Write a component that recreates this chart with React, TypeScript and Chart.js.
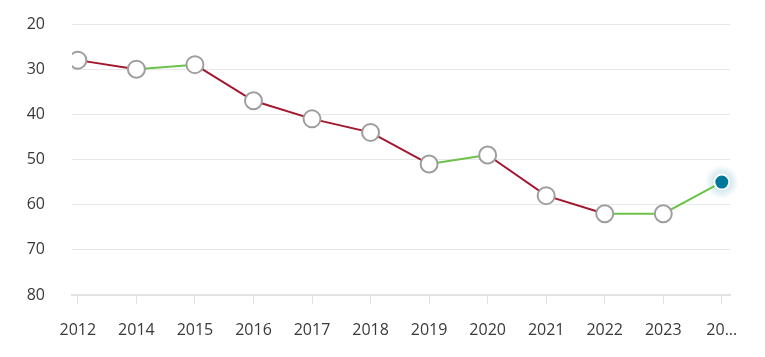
import React, { useEffect, useRef } from "react";
import { Chart, registerables } from "chart.js";

Chart.register(...registerables);

const categories = ["2012", "2014", "2015", "2016", "2017", "2018", "2019", "2020", "2021", "2022", "2023", "20..."];
const rankValues = [28, 30, 29, 37, 41, 44, 51, 49, 58, 62, 62, 55];
const yTicks = [20, 30, 40, 50, 60, 70, 80];

const RED = "#a3172d";
const GREEN = "#6cc24a";
const TEAL = "#00789c";

const haloPlugin = {
  id: "halo",
  beforeDatasetsDraw(chart: any) {
    const meta = chart.getDatasetMeta(0);
    const pt = meta.data[meta.data.length - 1];
    if (!pt) return;
    const ctx = chart.ctx;
    ctx.save();
    const g = ctx.createRadialGradient(pt.x, pt.y, 4, pt.x, pt.y, 17);
    g.addColorStop(0, "rgba(0,120,156,0.3)");
    g.addColorStop(0.5, "rgba(0,120,156,0.12)");
    g.addColorStop(1, "rgba(0,120,156,0)");
    ctx.fillStyle = g;
    ctx.beginPath();
    ctx.arc(pt.x, pt.y, 17, 0, Math.PI * 2);
    ctx.fill();
    ctx.restore();
  },
};

export default function App() {
  const ref = useRef<HTMLCanvasElement>(null);
  useEffect(() => {
    if (!ref.current) return;
    const last = rankValues.length - 1;
    const chart = new Chart(ref.current, {
      type: "line",
      data: {
        datasets: [
          {
            data: rankValues.map((v, i) => ({ x: i, y: v })),
            borderWidth: 2,
            borderColor: RED,
            segment: {
              borderColor: (c: any) => (c.p1.parsed.y > c.p0.parsed.y ? RED : GREEN),
            },
            pointRadius: (c: any) => (c.dataIndex === last ? 7.5 : 8.5),
            pointBorderWidth: 2,
            pointBorderColor: (c: any) => (c.dataIndex === last ? "#ffffff" : "#9e9e9e"),
            pointBackgroundColor: (c: any) => (c.dataIndex === last ? TEAL : "#ffffff"),
            tension: 0,
          },
        ],
      },
      options: {
        animation: false,
        responsive: true,
        maintainAspectRatio: false,
        layout: { padding: { top: 24, right: 35, left: 0, bottom: 0 } },
        plugins: { legend: { display: false }, tooltip: { enabled: false } },
        scales: {
          x: {
            type: "linear",
            min: -0.1,
            max: 11.14,
            afterBuildTicks: (s: any) => {
              s.ticks = categories.map((_, i) => ({ value: i }));
            },
            ticks: {
              callback: (v: any) => categories[v] ?? "",
              color: "#3a3a3a",
              font: { family: "Open Sans", size: 16 },
              padding: 17,
              maxRotation: 0,
              autoSkip: false,
            },
            grid: { drawOnChartArea: false, tickLength: 9, color: "#e2e2e2" },
            border: { color: "#e2e2e2", width: 2 },
            afterFit: (s: any) => {
              s.height = 62;
            },
          },
          y: {
            reverse: true,
            min: 20,
            max: 80,
            afterBuildTicks: (s: any) => {
              s.ticks = yTicks.map((v) => ({ value: v }));
            },
            ticks: {
              color: "#3a3a3a",
              font: { family: "Open Sans", size: 16 },
              padding: 27,
            },
            grid: { drawTicks: false, color: "#e8e8e8" },
            border: { display: false },
            afterFit: (s: any) => {
              s.width = 72;
              s.paddingTop = 0;
              s.paddingBottom = 0;
            },
          },
        },
      },
      plugins: [haloPlugin],
    } as any);
    return () => chart.destroy();
  }, []);
  return (
    <div style={{ position: "fixed", left: 0, top: 0, width: 765, height: 357 }}>
      <canvas ref={ref} />
    </div>
  );
}
